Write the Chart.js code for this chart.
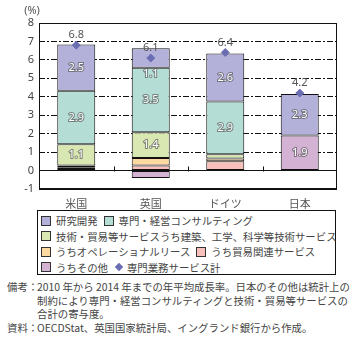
<!DOCTYPE html>
<html>
<head>
<meta charset="utf-8">
<script src="https://cdn.jsdelivr.net/npm/chart.js@4"></script>
<style>
  body { margin: 0; background: #fff; font-family: "Noto Sans CJK JP", "Noto Sans", sans-serif; color: #444; }
  #wrap { position: absolute; left: 0; top: 0; width: 358px; height: 209px; }
  #legend { position: absolute; left: 37px; top: 210px; width: 299px; height: 65px; border: 1px solid #111;
            box-sizing: border-box; padding: 2px 0 0 3px; display: flex; flex-wrap: wrap; align-content: flex-start;
            font-size: 10.4px; line-height: 15.5px; }
  #legend .item { display: flex; align-items: center; margin-right: 6px; white-space: nowrap; }
  #legend .box { width: 8px; height: 8px; border: 1px solid #333; margin-right: 5px; }
  #legend .dia { width: 6px; height: 6px; background: #6b6db3; transform: rotate(45deg); margin: 0 5px 0 2px; }
  #notes { position: absolute; left: 7px; top: 280px; font-size: 10.4px; line-height: 13.6px; }
  #notes .row { display: flex; white-space: nowrap; }
  #notes .hd { width: 30px; flex: none; }
</style>
</head>
<body>
<div id="wrap"><canvas id="c" width="358" height="209"></canvas></div>
<div id="legend"></div>
<div id="notes">
  <div class="row"><div class="hd">備考：</div><div>2010 年から 2014 年までの年平均成長率。日本のその他は統計上の<br>制約により専門・経営コンサルティングと技術・貿易等サービスの<br>合計の寄与度。</div></div>
  <div class="row"><div class="hd">資料：</div><div>OECDStat、英国国家統計局、イングランド銀行から作成。</div></div>
</div>
<script>
const countries = ['米国', '英国', 'ドイツ', '日本'];
const other = [0.08, -0.4, 0.03, 1.9];
const tradeRelated = [0.1, 0.27, 0.47, 0];
const opLease = [0.1, 0.41, 0.15, 0];
const techTrade = [1.15, 1.4, 0.23, 0];
const consulting = [2.9, 3.5, 2.87, 0];
const rnd = [2.5, 1.05, 2.6, 2.25];
const totals = [6.8, 6.1, 6.4, 4.2];

const C = {
  rnd: '#b3b1d9', consulting: '#b3ddd5', techTrade: '#d9e8b2',
  opLease: '#fcd9a0', trade: '#f8c0bb', other: '#d3b2d4', total: '#6b6db3'
};

function bar(label, data, color) {
  return { type: 'bar', label, data, backgroundColor: color, borderColor: '#111', borderWidth: 1,
           borderSkipped: false, barPercentage: 0.51, categoryPercentage: 1 };
}

const datasets = [
  { type: 'line', label: '専門業務サービス計', data: totals, showLine: false, stack: 'total', order: -1,
    pointStyle: 'rectRot', pointRadius: 4, pointBackgroundColor: C.total, pointBorderColor: C.total },
  bar('うちその他', other, C.other),
  bar('うち貿易関連サービス', tradeRelated, C.trade),
  bar('うちオペレーショナルリース', opLease, C.opLease),
  bar('技術・貿易等サービスうち建築、工学、科学等技術サービス', techTrade, C.techTrade),
  bar('専門・経営コンサルティング', consulting, C.consulting),
  bar('研究開発', rnd, C.rnd)
];

// frame, zero-line ticks, value labels, unit
const extras = {
  id: 'extras',
  afterDatasetsDraw(chart) {
    const { ctx, chartArea: a, scales: { x, y } } = chart;
    ctx.save();
    ctx.strokeStyle = '#111';
    ctx.lineWidth = 1;
    ctx.strokeRect(a.left + 0.5, a.top + 0.5, a.right - a.left - 1, a.bottom - a.top - 1);
    const y0 = Math.round(y.getPixelForValue(0)) + 0.5;
    const step = (a.right - a.left) / countries.length;
    ctx.beginPath();
    for (let i = 1; i < countries.length; i++) {
      const px = Math.round(a.left + step * i) + 0.5;
      ctx.moveTo(px, y0); ctx.lineTo(px, y0 - 5);
    }
    ctx.stroke();

    ctx.font = '11px "Noto Sans", sans-serif';
    ctx.textAlign = 'center';
    ctx.textBaseline = 'middle';
    chart.data.datasets.forEach((ds, di) => {
      const meta = chart.getDatasetMeta(di);
      meta.data.forEach((el, i) => {
        const v = ds.data[i];
        if (ds.type === 'line') {
          ctx.fillStyle = '#555';
          ctx.fillText(v.toFixed(1), el.x, el.y - 10);
        } else if (Math.abs(v) >= 1) {
          const h = Math.abs(el.base - el.y);
          // thin top segment: label sits just under it, as in the source
          const cy = h < 20 ? Math.max(el.base, el.y) + 6 : (el.y + el.base) / 2;
          ctx.lineWidth = 2;
          ctx.strokeStyle = 'rgba(90,90,90,0.7)';
          ctx.strokeText(v.toFixed(1), el.x, cy);
          ctx.fillStyle = '#fff';
          ctx.fillText(v.toFixed(1), el.x, cy);
        }
      });
    });
    ctx.fillStyle = '#555';
    ctx.fillText('(%)', 32, 11);
    ctx.restore();
  }
};

new Chart(document.getElementById('c'), {
  data: { labels: countries, datasets },
  options: {
    responsive: false,
    animation: false,
    layout: { padding: { top: 23, right: 21, left: 0, bottom: 0 } },
    plugins: { legend: { display: false }, tooltip: { enabled: false } },
    scales: {
      x: {
        stacked: true,
        grid: { display: false },
        border: { display: false },
        ticks: { padding: 0, color: '#555', font: { family: '"Noto Sans CJK JP"', size: 11 } },
        afterFit(s) { s.height = 20; }
      },
      y: {
        stacked: true,
        min: -1, max: 8,
        ticks: { stepSize: 1, padding: 5, color: '#444', font: { family: '"Noto Sans"', size: 11 } },
        grid: { color: '#111', drawTicks: false },
        border: {
          display: false,
          dash: ctx => (ctx.tick && ctx.tick.value > 0 && ctx.tick.value < 8) ? [6, 2, 2, 2] : []
        },
        afterFit(s) { s.width = 39; }
      }
    }
  },
  plugins: [extras]
});

// HTML legend, in the reference order
const legendOrder = ['研究開発', '専門・経営コンサルティング', '技術・貿易等サービスうち建築、工学、科学等技術サービス',
  'うちオペレーショナルリース', 'うち貿易関連サービス', 'うちその他', '専門業務サービス計'];
const lg = document.getElementById('legend');
legendOrder.forEach(name => {
  const ds = datasets.find(d => d.label === name);
  const item = document.createElement('div');
  item.className = 'item';
  const mark = document.createElement('span');
  if (ds.type === 'line') {
    mark.className = 'dia';
  } else {
    mark.className = 'box';
    mark.style.background = ds.backgroundColor;
  }
  item.appendChild(mark);
  item.appendChild(document.createTextNode(name));
  lg.appendChild(item);
});
</script>
</body>
</html>
